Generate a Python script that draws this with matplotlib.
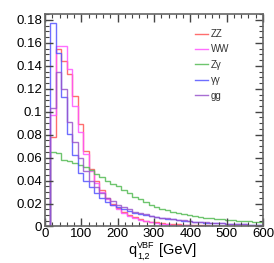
import numpy as np
import matplotlib
matplotlib.use("Agg")
import matplotlib.pyplot as plt
from matplotlib.ticker import MultipleLocator, FuncFormatter

plt.rcParams['font.family'] = ['Liberation Sans', 'DejaVu Sans']

# bin edges: 15 GeV bins from 15 to 600
edges = np.arange(15, 601, 15)

labels = ["ZZ", "WW", "Z\u03b3", "\u03b3\u03b3", "gg"]
colors = ["#ff5555", "#ff55ff", "#55bb55", "#5555ff", "#9955cc"]

zz = [0.078, 0.155, 0.144, 0.133, 0.114, 0.089, 0.066, 0.050, 0.040, 0.032,
      0.025, 0.020, 0.016, 0.013, 0.010, 0.008, 0.0065, 0.005, 0.0042, 0.0035,
      0.003, 0.0025, 0.002, 0.0017, 0.0015, 0.0013, 0.0011, 0.001, 0.0009, 0.0008,
      0.0007, 0.0006, 0.0005, 0.0005, 0.0004, 0.0004, 0.0003, 0.0003, 0.0003]
ww = [0.097, 0.1577, 0.1577, 0.1375, 0.105, 0.082, 0.063, 0.048, 0.038, 0.030,
      0.024, 0.019, 0.015, 0.012, 0.0095, 0.0075, 0.006, 0.0048, 0.0038, 0.003,
      0.0024, 0.002, 0.0016, 0.0013, 0.0011, 0.0009, 0.0008, 0.0007, 0.0006, 0.0005,
      0.0004, 0.0004, 0.0003, 0.0003, 0.0003, 0.0002, 0.0002, 0.0002, 0.0002]
zg = [0.065, 0.064, 0.058, 0.057, 0.0555, 0.0535, 0.0515, 0.049, 0.046, 0.043,
      0.040, 0.037, 0.035, 0.032, 0.029, 0.026, 0.0235, 0.021, 0.019, 0.017,
      0.0155, 0.014, 0.0125, 0.0115, 0.0105, 0.0097, 0.009, 0.0083, 0.0077, 0.0071,
      0.0066, 0.0061, 0.0057, 0.0053, 0.0050, 0.0047, 0.0044, 0.0041, 0.0038]
aa = [0.177, 0.151, 0.113, 0.081, 0.062, 0.047, 0.040, 0.034, 0.029, 0.025,
      0.021, 0.019, 0.017, 0.015, 0.0135, 0.012, 0.011, 0.010, 0.009, 0.0082,
      0.0075, 0.0068, 0.0062, 0.0056, 0.005, 0.0046, 0.0042, 0.0038, 0.0034, 0.0031,
      0.0028, 0.0026, 0.0024, 0.0022, 0.002, 0.0018, 0.0016, 0.0015, 0.0014]
gg = [0.103, 0.135, 0.1196, 0.091, 0.074, 0.060, 0.048, 0.040, 0.034, 0.029,
      0.025, 0.022, 0.019, 0.017, 0.015, 0.013, 0.0118, 0.0105, 0.0095, 0.0085,
      0.0077, 0.007, 0.0063, 0.0057, 0.0052, 0.0047, 0.0043, 0.0039, 0.0035, 0.0032,
      0.0029, 0.0026, 0.0024, 0.0022, 0.002, 0.0018, 0.0016, 0.0015, 0.0014]

series = [zz, ww, zg, aa, gg]

W, H = 274, 263
fig = plt.figure(figsize=(W / 100, H / 100), dpi=100)
ax = fig.add_axes([0.1642, 0.139, 0.7957, 0.8078])

for vals, lab, col in zip(series, labels, colors):
    ax.stairs(vals, edges, color=col, lw=1.0, alpha=0.85, label=lab)

ax.set_xlim(0, 600)
ax.set_ylim(0, 0.1852)

# ROOT style ticks
ax.xaxis.set_major_locator(MultipleLocator(100))
ax.xaxis.set_minor_locator(MultipleLocator(20))
ax.yaxis.set_major_locator(MultipleLocator(0.02))
ax.yaxis.set_minor_locator(MultipleLocator(0.005))
ax.yaxis.set_major_formatter(FuncFormatter(lambda v, p: "%g" % round(v, 4)))
ax.tick_params(which='both', direction='in', top=True, right=True,
               labelsize=9.5, color='#444444')
ax.tick_params(axis='x', pad=1)
ax.tick_params(axis='y', pad=2)
ax.tick_params(which='major', length=6, width=1)
ax.tick_params(which='minor', length=3, width=0.8)
for s in ax.spines.values():
    s.set_color('#666666')
    s.set_linewidth(1.2)

# axis title built from pieces (pixel positions -> figure fraction)
def px(x, y):
    return x / W, (H - y) / H

fig.text(*px(128, 254), "q", fontsize=10.5, va='baseline')
fig.text(*px(137, 248), "VBF", fontsize=6.5, va='baseline')
fig.text(*px(137, 259), "1,2", fontsize=6.5, va='baseline')
fig.text(*px(159, 254), "[GeV]", fontsize=10.5, va='baseline')

leg = ax.legend(loc='upper left', bbox_to_anchor=(0.65, 0.97), frameon=False,
                fontsize=7, handlelength=1.3, handletextpad=0.3,
                labelspacing=0.55, labelcolor='#333333')

fig.savefig("out.png", dpi=100)
